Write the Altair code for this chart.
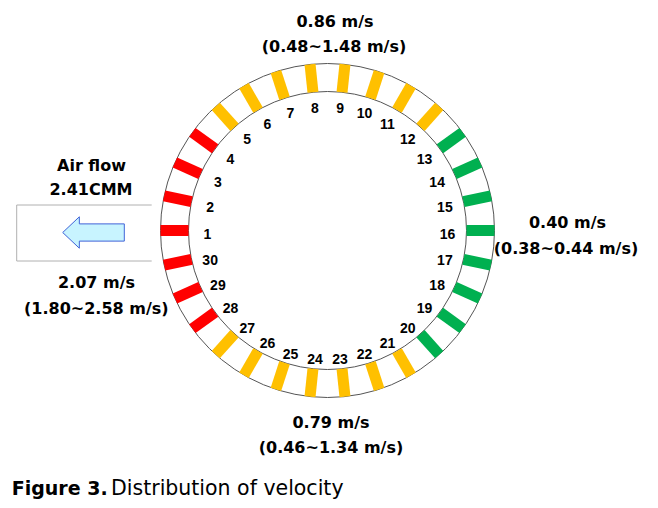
import math
import altair as alt
import pandas as pd

# ---------------- data ----------------
segments = list(range(1, 31))
seg_group = (["high"] * 4 + ["mid"] * 8 + ["low"] * 8 + ["mid"] * 7 + ["high"] * 3)
group_names = ["high", "mid", "low"]
group_colors = ["#FF0000", "#FFC000", "#00B050"]

top_text = ["0.86 m/s", "(0.48~1.48 m/s)"]
right_text = ["0.40 m/s", "(0.38~0.44 m/s)"]
bottom_text = ["0.79 m/s", "(0.46~1.34 m/s)"]
left_text = ["2.07 m/s", "(1.80~2.58 m/s)"]
flow_text = ["Air flow", "2.41CMM"]
caption_bold = "Figure 3."
caption_rest = "Distribution of velocity"

# ---------------- layout ----------------
W, H = 642, 492
CX, CY = 319.5, 222.5          # ring centre in plot pixels
R_OUT, R_IN = 167, 139
UNIT = R_OUT
BAR_W = 11

x_scale = alt.Scale(domain=[-CX / UNIT, (W - CX) / UNIT], range=[0, W], nice=False, zero=False)
y_scale = alt.Scale(domain=[-(H - CY) / UNIT, CY / UNIT], range=[H, 0], nice=False, zero=False)

step = 360 / len(segments)
rows = []
r_mid = (R_OUT + R_IN) / 2 / UNIT
for s, g in zip(segments, seg_group):
    a = 180 - step * (s - 1)
    rad = math.radians(a)
    rows.append({
        "seg": str(s),
        "group": g,
        "bx": r_mid * math.cos(rad),
        "by": r_mid * math.sin(rad),
        "rot": (-a) % 360,
        "lx": 120 / UNIT * math.cos(rad),
        "ly": 126.5 / UNIT * math.sin(rad) - 4 / UNIT,
    })
df = pd.DataFrame(rows)
one = pd.DataFrame({"k": [0]})

half = BAR_W / (R_OUT - R_IN)
rect_path = f"M-1,-{half:.3f} L1,-{half:.3f} L1,{half:.3f} L-1,{half:.3f} Z"

ring = alt.Chart(one).mark_arc(
    fill="white", stroke="#555555", strokeWidth=1,
    theta=0, theta2=2 * math.pi, radius=R_OUT, radius2=R_IN,
).encode(
    x=alt.X(datum=0, type="quantitative", scale=x_scale, axis=None),
    y=alt.Y(datum=0, type="quantitative", scale=y_scale, axis=None),
)

bars = alt.Chart(df).mark_point(
    shape=rect_path, filled=True, opacity=1, size=(R_OUT - R_IN) ** 2, strokeWidth=0,
).encode(
    x=alt.X("bx:Q", scale=x_scale, axis=None),
    y=alt.Y("by:Q", scale=y_scale, axis=None),
    angle=alt.Angle("rot:Q", scale=None),
    color=alt.Color("group:N", scale=alt.Scale(domain=group_names, range=group_colors), legend=None),
)

labels = alt.Chart(df).mark_text(
    font="Liberation Sans", fontSize=14, fontWeight="bold", color="black",
    align="center", baseline="middle",
).encode(
    x=alt.X("lx:Q", scale=x_scale, axis=None),
    y=alt.Y("ly:Q", scale=y_scale, axis=None),
    text="seg:N",
)

layers = [ring, bars, labels]


def txt(t, px, py, size=16, weight="bold", align="center", font="DejaVu Sans"):
    return alt.Chart(one).mark_text(
        font=font, fontSize=size, fontWeight=weight, color="black",
        align=align, baseline="alphabetic",
    ).encode(x=alt.value(px), y=alt.value(py), text=alt.value(t))


layers += [
    txt(top_text[0], 327, 18.7), txt(top_text[1], 326, 44),
    txt(right_text[0], 559.5, 220.3), txt(right_text[1], 558, 246),
    txt(bottom_text[0], 323, 420.3), txt(bottom_text[1], 323, 445.3),
    txt(flow_text[0], 83.5, 162.7), txt(flow_text[1], 83, 187),
    txt(left_text[0], 88.5, 280.3), txt(left_text[1], 88.3, 306),
    txt(caption_bold, 3.7, 486.5, size=19, align="left"),
    txt(caption_rest, 103, 486.5, size=20.5, weight="normal", align="left"),
]

# box around the arrow (open on the ring side)
box_color = "#B0B0B0"
layers += [
    alt.Chart(one).mark_rule(color=box_color, strokeWidth=1).encode(
        x=alt.value(8.7), x2=alt.value(143.7), y=alt.value(197)),
    alt.Chart(one).mark_rule(color=box_color, strokeWidth=1).encode(
        x=alt.value(8.7), x2=alt.value(143.7), y=alt.value(253)),
    alt.Chart(one).mark_rule(color=box_color, strokeWidth=1).encode(
        x=alt.value(8.7), y=alt.value(197), y2=alt.value(253)),
]

arrow_path = "M-1,0 L-0.46,-0.51 L-0.46,-0.28 L1,-0.28 L1,0.28 L-0.46,0.28 L-0.46,0.51 Z"
layers.append(
    alt.Chart(one).mark_point(
        shape=arrow_path, size=3795, fill="#C8F4FF", stroke="#3F63D8",
        strokeWidth=1, opacity=1, fillOpacity=1, strokeOpacity=1,
    ).encode(x=alt.value(85.5), y=alt.value(224.5))
)

chart = alt.layer(*layers).properties(
    width=W, height=H, padding=0,
    autosize=alt.AutoSizeParams(type="none"),
).configure_view(stroke=None)

chart.save("out.html", embed_options={"renderer": "svg", "actions": False})
